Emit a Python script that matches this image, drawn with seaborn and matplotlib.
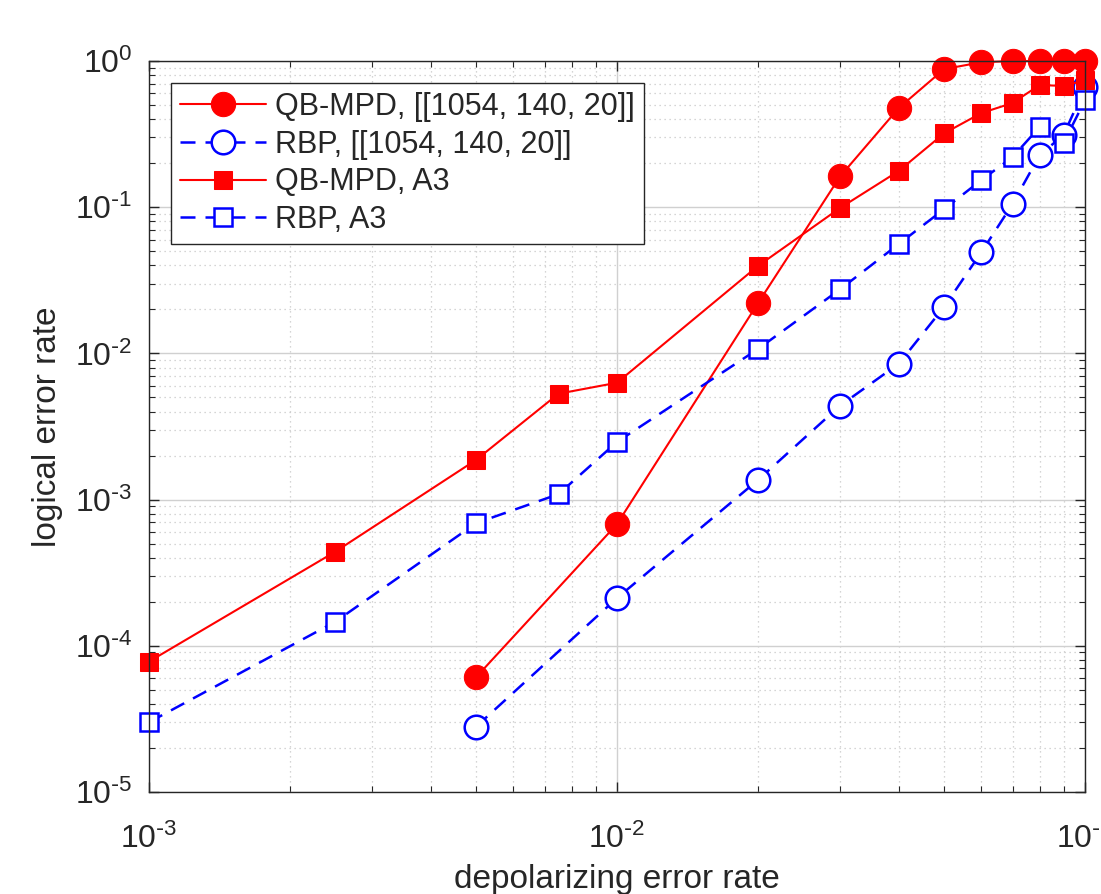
import math

import matplotlib
matplotlib.use("Agg")
import matplotlib.pyplot as plt
import matplotlib.ticker as mticker
import pandas as pd
import seaborn as sns

# depolarizing error rates
p_1054 = [0.005, 0.01, 0.02, 0.03, 0.04, 0.05, 0.06, 0.07, 0.08, 0.09, 0.1]
p_a3 = [0.001, 0.0025, 0.005, 0.0075, 0.01, 0.02, 0.03, 0.04, 0.05, 0.06, 0.07, 0.08, 0.09, 0.1]

# logical error rates
qbmpd_1054 = [6.1e-5, 6.8e-4, 0.022, 0.163, 0.477, 0.88, 0.98, 1.0, 1.0, 1.0, 1.0]
rbp_1054 = [2.8e-5, 2.12e-4, 1.36e-3, 4.4e-3, 8.5e-3, 0.0208, 0.049, 0.105, 0.227, 0.312, 0.66]
qbmpd_a3 = [7.8e-5, 4.4e-4, 1.87e-3, 5.3e-3, 6.3e-3, 0.0396, 0.099, 0.177, 0.32, 0.44, 0.516, 0.685, 0.675, 0.74]
rbp_a3 = [3.0e-5, 1.46e-4, 6.9e-4, 1.09e-3, 2.48e-3, 0.0107, 0.0275, 0.056, 0.097, 0.153, 0.22, 0.354, 0.275, 0.54]

labels = ["QB-MPD, [[1054, 140, 20]]", "RBP, [[1054, 140, 20]]", "QB-MPD, A3", "RBP, A3"]

sns.set_style("ticks")
plt.rcParams['font.family'] = ['Liberation Sans', 'DejaVu Sans']
plt.rcParams['mathtext.default'] = 'regular'

fig = plt.figure(figsize=(11.01, 8.94), dpi=100)
ax = fig.add_axes([149 / 1101, 1 - 792 / 894, (1085 - 149) / 1101, (792 - 61) / 894])

dash = (0, (6, 4))
series = [
    (p_1054, qbmpd_1054, dict(color='red', marker='o', markersize=17.5, markerfacecolor='red',
                              markeredgecolor='red', linestyle='-', linewidth=1.5)),
    (p_1054, rbp_1054, dict(color='blue', marker='o', markersize=17, markerfacecolor='white',
                            markeredgecolor='blue', markeredgewidth=1.8, linestyle=dash, linewidth=1.8)),
    (p_a3, qbmpd_a3, dict(color='red', marker='s', markersize=13.5, markerfacecolor='red',
                          markeredgecolor='red', linestyle='-', linewidth=1.5)),
    (p_a3, rbp_a3, dict(color='blue', marker='s', markersize=13.5, markerfacecolor='white',
                        markeredgecolor='blue', markeredgewidth=1.8, linestyle=dash, linewidth=1.8)),
]

for (x, y, kw), lab in zip(series, labels):
    df = pd.DataFrame({'p': x, 'ler': y})
    sns.lineplot(data=df, x='p', y='ler', ax=ax, label=lab, errorbar=None,
                 sort=False, clip_on=False, **kw)

ax.set_xscale('log')
ax.set_yscale('log')
ax.set_xlim(1e-3, 1e-1)
ax.set_ylim(1e-5, 1e0)


def pow10(v, pos):
    n = round(math.log10(v))
    if n < 0:
        return r"10$^{\text{-}%d}$" % (-n)
    return r"10$^{%d}$" % n


for axis in (ax.xaxis, ax.yaxis):
    axis.set_major_locator(mticker.LogLocator(base=10, numticks=10))
    axis.set_minor_locator(mticker.LogLocator(base=10, subs=range(2, 10), numticks=100))
    axis.set_minor_formatter(mticker.NullFormatter())
    axis.set_major_formatter(mticker.FuncFormatter(pow10))

ax.grid(True, which='major', color='#d0d0d0', linewidth=1.0, linestyle='-')
ax.grid(True, which='minor', color='#c8c8c8', linewidth=0.9, linestyle=(0, (1, 3)))
ax.set_axisbelow(True)

ax.tick_params(which='both', direction='in', top=True, right=True, color='#262626')
ax.tick_params(which='major', length=7, width=1, labelsize=23)
ax.tick_params(axis='x', which='major', pad=23)
ax.tick_params(axis='y', which='major', pad=12)
ax.tick_params(which='minor', length=4, width=0.8)
for s in ax.spines.values():
    s.set_color('#262626')
    s.set_linewidth(1.0)

ax.set_xlabel('depolarizing error rate', fontsize=24, labelpad=6)
ax.set_ylabel('logical error rate', fontsize=24, labelpad=8)

leg = ax.legend(loc='upper left', bbox_to_anchor=(0.0235, 0.970), fontsize=22, frameon=True,
                fancybox=False, edgecolor='#262626', framealpha=1, handlelength=2.8,
                borderpad=0.3, labelspacing=0.25, handletextpad=0.3, borderaxespad=0)
leg.get_frame().set_linewidth(1.0)

fig.savefig('out.png', dpi=100)
